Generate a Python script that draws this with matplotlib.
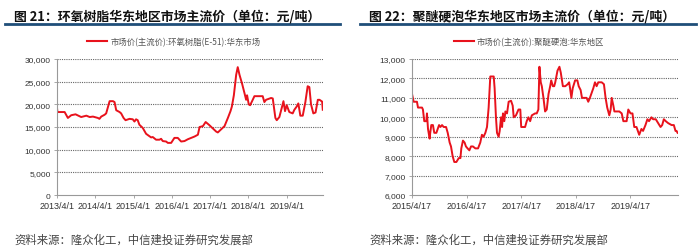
import pandas as pd
import matplotlib.pyplot as plt
import matplotlib.lines as mlines

plt.rcParams['font.family'] = ['Liberation Sans', 'Noto Sans CJK SC', 'DejaVu Sans']

# 图21 环氧树脂 (元/吨)
epoxy_dates = ['2013-04-01', '2013-04-05', '2013-05-12', '2013-06-13', '2013-07-14', '2013-08-15',
               '2013-09-25', '2013-11-18', '2014-01-06', '2014-02-07', '2014-03-10', '2014-04-26',
               '2014-05-11', '2014-05-28', '2014-06-29', '2014-07-14', '2014-08-16', '2014-09-17',
               '2014-10-02', '2014-10-18', '2014-11-19', '2014-12-04', '2014-12-27', '2015-01-15',
               '2015-02-22', '2015-03-25', '2015-04-10', '2015-04-25', '2015-05-11', '2015-05-27',
               '2015-06-28', '2015-07-30', '2015-09-16', '2015-10-01', '2015-11-02', '2015-12-04',
               '2015-12-20', '2016-01-05', '2016-02-06', '2016-02-22', '2016-03-25', '2016-04-25',
               '2016-05-27', '2016-06-28', '2016-07-30', '2016-08-31', '2016-10-02', '2016-11-03',
               '2016-12-05', '2016-12-21', '2017-01-22', '2017-02-17', '2017-03-20', '2017-04-26',
               '2017-05-28', '2017-06-13', '2017-07-15', '2017-08-16', '2017-09-17', '2017-10-12',
               '2017-10-25', '2017-11-13', '2017-12-05', '2017-12-20', '2018-01-06', '2018-01-31',
               '2018-02-22', '2018-03-10', '2018-03-19', '2018-04-04', '2018-04-17', '2018-05-12',
               '2018-05-28', '2018-07-14', '2018-08-15', '2018-08-31', '2018-09-16', '2018-11-03',
               '2018-11-19', '2018-12-14', '2018-12-27', '2019-01-21', '2019-02-16', '2019-03-01',
               '2019-03-16', '2019-04-01', '2019-04-26', '2019-05-28', '2019-06-13', '2019-07-05',
               '2019-07-21', '2019-08-09', '2019-09-01', '2019-09-26', '2019-10-18', '2019-11-03',
               '2019-11-19', '2019-12-11', '2020-01-01', '2020-01-23', '2020-02-08', '2020-03-04',
               '2020-03-10']
epoxy_price = [19300, 18300, 18300, 18300, 17000, 17600,
               17800, 17200, 17500, 17200, 17300, 17000,
               16800, 17300, 17700, 18000, 20700, 20700,
               20500, 18700, 18300, 18000, 17000, 16500,
               16800, 16700, 16200, 16700, 16500, 15500,
               14800, 13500, 12700, 12800, 12200, 12200,
               12400, 11900, 11800, 11500, 11500, 12600,
               12600, 11800, 11900, 12300, 12600, 12900,
               13300, 15000, 15200, 16100, 15500, 14700,
               14000, 13800, 14500, 15200, 17000, 18500,
               19500, 22000, 26500, 28200, 26500, 24500,
               22500, 21000, 22000, 20000, 19800, 21000,
               21800, 21800, 21800, 20500, 21000, 21400,
               21300, 17000, 16500, 17200, 19500, 20700,
               18500, 19800, 18300, 18000, 18800, 19500,
               20200, 17500, 17500, 20500, 24000, 23800,
               20000, 18000, 18200, 21000, 21000, 20600,
               18800]

# 图22 聚醚硬泡 (元/吨)
polyether_dates = ['2015-04-17', '2015-04-28', '2015-05-20', '2015-05-27', '2015-06-23', '2015-06-29',
                   '2015-07-08', '2015-07-22', '2015-07-26', '2015-08-02', '2015-08-13', '2015-08-17',
                   '2015-08-24', '2015-09-04', '2015-09-13', '2015-09-27', '2015-10-06', '2015-10-15',
                   '2015-10-24', '2015-11-04', '2015-11-15', '2015-12-01', '2015-12-12', '2015-12-25',
                   '2016-01-03', '2016-01-14', '2016-01-25', '2016-02-08', '2016-02-24', '2016-03-06',
                   '2016-03-12', '2016-03-23', '2016-04-03', '2016-04-12', '2016-04-23', '2016-05-05',
                   '2016-05-16', '2016-05-29', '2016-06-14', '2016-07-02', '2016-07-17', '2016-07-28',
                   '2016-08-08', '2016-08-20', '2016-08-31', '2016-09-11', '2016-09-22', '2016-10-15',
                   '2016-10-21', '2016-10-30', '2016-11-06', '2016-11-17', '2016-11-24', '2016-12-03',
                   '2016-12-10', '2016-12-16', '2016-12-25', '2017-01-01', '2017-01-12', '2017-01-23',
                   '2017-02-08', '2017-02-19', '2017-02-26', '2017-03-13', '2017-03-30', '2017-04-11',
                   '2017-04-17', '2017-05-13', '2017-05-24', '2017-06-04', '2017-06-16', '2017-06-27',
                   '2017-07-19', '2017-07-30', '2017-08-10', '2017-08-17', '2017-08-26', '2017-09-02',
                   '2017-09-13', '2017-09-24', '2017-10-05', '2017-10-17', '2017-10-28', '2017-11-04',
                   '2017-11-15', '2017-11-24', '2017-12-01', '2017-12-16', '2017-12-29', '2018-01-07',
                   '2018-01-21', '2018-02-06', '2018-02-22', '2018-03-04', '2018-03-10', '2018-03-19',
                   '2018-03-28', '2018-04-13', '2018-04-28', '2018-05-07', '2018-05-20', '2018-05-29',
                   '2018-06-29', '2018-07-10', '2018-07-21', '2018-08-13', '2018-08-24', '2018-09-04',
                   '2018-09-15', '2018-10-08', '2018-10-23', '2018-11-03', '2018-11-14', '2018-11-28',
                   '2018-12-07', '2018-12-14', '2018-12-25', '2019-01-01', '2019-02-03', '2019-02-19',
                   '2019-03-02', '2019-03-24', '2019-04-04', '2019-04-19', '2019-05-02', '2019-05-14',
                   '2019-05-29', '2019-06-16', '2019-07-01', '2019-07-12', '2019-07-28', '2019-08-10',
                   '2019-08-21', '2019-09-06', '2019-09-17', '2019-10-05', '2019-10-21', '2019-11-06',
                   '2019-11-17', '2019-11-28', '2019-12-11', '2019-12-27', '2020-01-19', '2020-02-03',
                   '2020-02-14', '2020-02-21', '2020-02-28']
polyether_price = [11200, 10800, 10800, 10500, 10500, 10400,
                   9800, 9800, 10200, 9400, 8900, 9200,
                   9600, 9600, 9200, 9200, 9400, 9600,
                   9500, 9600, 9500, 9500, 9200, 8700,
                   8500, 8000, 7700, 7700, 7900, 7900,
                   8400, 8800, 8700, 8500, 8400, 8300,
                   8500, 8500, 8400, 8400, 8700, 9100,
                   9000, 9200, 9500, 10500, 12100, 12100,
                   11500, 10000, 9200, 9000, 9300, 10000,
                   9500, 10200, 9800, 10300, 10200, 10800,
                   10850, 10600, 10000, 10100, 10400, 10400,
                   9500, 9500, 9800, 10000, 9800, 10100,
                   10200, 10200, 10400, 12600, 11800, 11600,
                   11000, 10300, 10400, 11200, 11600, 11900,
                   11600, 11600, 11800, 12400, 12600, 12300,
                   11600, 11600, 11700, 11800, 11500, 11000,
                   11500, 11900, 11900, 11600, 11400, 11000,
                   11000, 10800, 11000, 11500, 11800, 11600,
                   11800, 11800, 11700, 11000, 10500, 10100,
                   10400, 11000, 10600, 10300, 10300, 10200,
                   9800, 9800, 10400, 10200, 10200, 9500,
                   9500, 9100, 9400, 9300, 9600, 9900,
                   9800, 10000, 9900, 9900, 9700, 9500,
                   9600, 9900, 9800, 9700, 9600, 9600,
                   9300, 9300, 9200]

epoxy_ticks = ['2013-04-01', '2014-04-01', '2015-04-01', '2016-04-01', '2017-04-01', '2018-04-01', '2019-04-01']
epoxy_ticklabels = ['2013/4/1', '2014/4/1', '2015/4/1', '2016/4/1', '2017/4/1', '2018/4/1', '2019/4/1']
polyether_ticks = ['2015-04-17', '2016-04-17', '2017-04-17', '2018-04-17', '2019-04-17']
polyether_ticklabels = ['2015/4/17', '2016/4/17', '2017/4/17', '2018/4/17', '2019/4/17']

red = '#E8121C'
cjk = ['Noto Sans CJK SC', 'DejaVu Sans']

fig = plt.figure(figsize=(7, 2.51), dpi=100)


def draw_panel(x0, title, legend_text, dates, prices, ylim, ystep, ticks, ticklabels, xend):
    ax = fig.add_axes([x0, 0.219, 0.38, 0.542])
    ax.plot(pd.to_datetime(dates), prices, color=red, lw=1.4)
    ax.set_xlim(pd.Timestamp(ticks[0]), pd.Timestamp(xend))
    ax.set_ylim(*ylim)
    yt = list(range(ylim[0], ylim[1] + 1, ystep))
    ax.set_yticks(yt)
    ax.set_yticklabels([f'{v:,}' for v in yt], fontsize=6, color='#333333')
    ax.set_xticks(pd.to_datetime(ticks))
    ax.set_xticklabels(ticklabels, fontsize=6.5, color='#333333')
    for v in yt[1:]:
        ax.axhline(v, color='#666666', lw=0.8, ls=(0, (1, 1)), zorder=0)
    for s in ['top', 'right']:
        ax.spines[s].set_visible(False)
    for s in ['left', 'bottom']:
        ax.spines[s].set_color('#999999')
        ax.spines[s].set_linewidth(0.8)
    ax.tick_params(axis='both', length=2.5, width=0.6, color='#999999', pad=2)
    handle = mlines.Line2D([], [], color=red, lw=1.5)
    ax.legend([handle], [legend_text], loc='lower center', bbox_to_anchor=(0.44, 1.04),
              frameon=False, handlelength=2.4, handletextpad=0.4,
              prop={'family': cjk, 'size': 6}, labelcolor='#555555')
    fx = x0 - 0.061
    fig.text(fx, 0.935, title, family=cjk, fontsize=9.3, fontweight='bold',
             color='#111111', va='center', ha='left')
    fig.add_artist(mlines.Line2D([x0 - 0.074, x0 + 0.405], [0.9, 0.9], color='#1F4E79',
                                 lw=2, transform=fig.transFigure))
    fig.text(fx, 0.045, '资料来源：隆众化工，中信建投证券研究发展部', family=cjk,
             fontsize=8.2, color='#444444', va='center', ha='left')
    return ax


draw_panel(0.0814, '图 21：环氧树脂华东地区市场主流价（单位：元/吨）',
           '市场价(主流价):环氧树脂(E-51):华东市场',
           epoxy_dates, epoxy_price, (0, 30000), 5000,
           epoxy_ticks, epoxy_ticklabels, '2020-03-12')
draw_panel(0.5886, '图 22：聚醚硬泡华东地区市场主流价（单位：元/吨）',
           '市场价(主流价):聚醚硬泡:华东地区',
           polyether_dates, polyether_price, (6000, 13000), 1000,
           polyether_ticks, polyether_ticklabels, '2020-03-02')

fig.savefig('out.png', dpi=100)
